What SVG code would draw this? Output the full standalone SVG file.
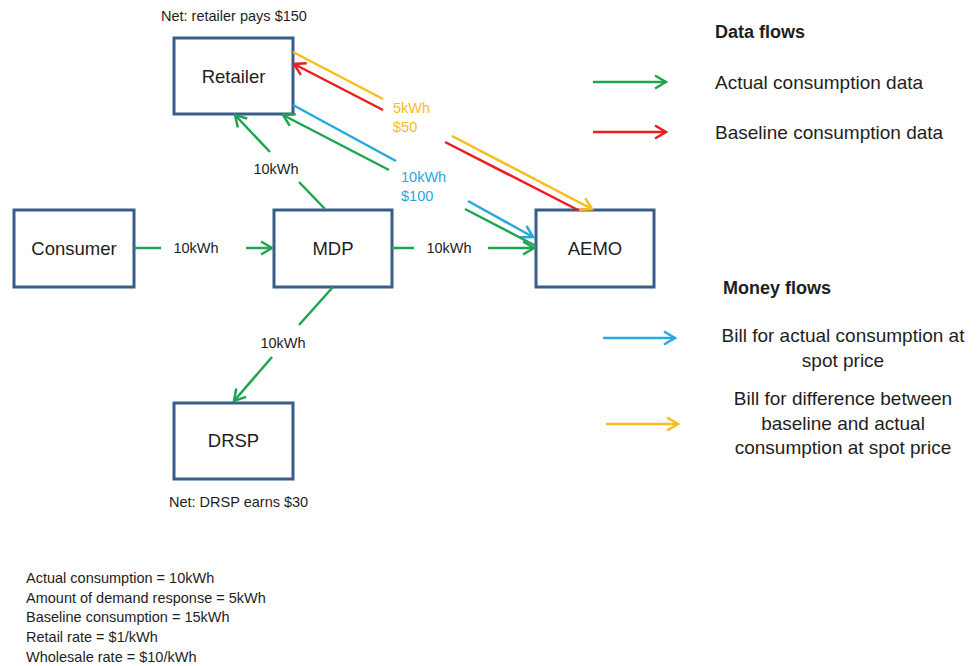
<svg xmlns="http://www.w3.org/2000/svg" width="979" height="666" viewBox="0 0 979 666">
<style>
  text { font-family: "Liberation Sans", Arial, sans-serif; fill: #1e1e1e; }
  .box { fill: #ffffff; stroke: #385d8a; stroke-width: 3; }
  .nlabel { font-size: 18.5px; text-anchor: middle; }
  .small { font-size: 14.5px; }
  .mid { text-anchor: middle; }
  .leg { font-size: 19px; }
  .legh { font-size: 18px; font-weight: bold; }
  .c { fill: none; stroke-width: 2.5; }
  .g { stroke: #1fa552; }
  .r { stroke: #ee1c1c; }
  .b { stroke: #27a8e0; }
  .y { stroke: #f9bc1d; }
</style>
<defs>
  <marker id="ag" viewBox="-13 -8 15 16" refX="0" refY="0" markerWidth="15" markerHeight="16" markerUnits="userSpaceOnUse" orient="auto">
    <path d="M-11 -6.5 L0 0 L-11 6.5" fill="none" stroke="#1fa552" stroke-width="2.5"/>
  </marker>
  <marker id="ar" viewBox="-13 -8 15 16" refX="0" refY="0" markerWidth="15" markerHeight="16" markerUnits="userSpaceOnUse" orient="auto">
    <path d="M-11 -6.5 L0 0 L-11 6.5" fill="none" stroke="#ee1c1c" stroke-width="2.5"/>
  </marker>
  <marker id="ab" viewBox="-13 -8 15 16" refX="0" refY="0" markerWidth="15" markerHeight="16" markerUnits="userSpaceOnUse" orient="auto">
    <path d="M-11 -6.5 L0 0 L-11 6.5" fill="none" stroke="#27a8e0" stroke-width="2.5"/>
  </marker>
  <marker id="ay" viewBox="-13 -8 15 16" refX="0" refY="0" markerWidth="15" markerHeight="16" markerUnits="userSpaceOnUse" orient="auto">
    <path d="M-11 -6.5 L0 0 L-11 6.5" fill="none" stroke="#f9bc1d" stroke-width="2.5"/>
  </marker>
</defs>
<rect width="979" height="666" fill="#ffffff"/>

<g id="retailer">
  <rect class="box" x="174" y="38" width="119" height="76"/>
  <text class="nlabel" x="233.5" y="82.5">Retailer</text>
</g>
<g id="consumer">
  <rect class="box" x="14" y="210" width="120" height="77"/>
  <text class="nlabel" x="74" y="254.5">Consumer</text>
</g>
<g id="mdp">
  <rect class="box" x="274" y="210" width="118" height="77"/>
  <text class="nlabel" x="333" y="254.5">MDP</text>
</g>
<g id="aemo">
  <rect class="box" x="536" y="210" width="118" height="77"/>
  <text class="nlabel" x="595" y="254.5">AEMO</text>
</g>
<g id="drsp">
  <rect class="box" x="174" y="403" width="119" height="76"/>
  <text class="nlabel" x="233.5" y="447">DRSP</text>
</g>

<g id="connectors">
  <path class="c g" d="M134 248 L161 248 M246 248 L272 248" marker-end="url(#ag)"/>
  <path class="c g" d="M392 248 L414 248 M488 248 L534 248" marker-end="url(#ag)"/>
  <path class="c g" d="M325 209 L299 182 M270 152 L235 115" marker-end="url(#ag)"/>
  <path class="c g" d="M333 287 L299 325 M272 357 L234 401" marker-end="url(#ag)"/>
  <path class="c y" d="M293 52 L383 99 M452 136 L592 209" marker-end="url(#ay)"/>
  <path class="c r" d="M578 210 L445 142 M383 110 L294 64" marker-end="url(#ar)"/>
  <path class="c b" d="M293 105 L396 161 M468 201 L533 237" marker-end="url(#ab)"/>
  <path class="c g" d="M536 246 L465 209 M389 170 L283 115" marker-end="url(#ag)"/>
  <text class="small mid" x="196" y="253">10kWh</text>
  <text class="small mid" x="449" y="253">10kWh</text>
  <text class="small mid" x="276" y="174">10kWh</text>
  <text class="small mid" x="283" y="348">10kWh</text>
  <text class="small" x="393" y="113" style="fill:#f9bc1d">5kWh</text>
  <text class="small" x="393" y="132" style="fill:#f9bc1d">$50</text>
  <text class="small" x="401" y="182" style="fill:#27a8e0">10kWh</text>
  <text class="small" x="401" y="201" style="fill:#27a8e0">$100</text>
</g>

<g id="notes">
  <text class="small" x="161" y="21">Net: retailer pays $150</text>
  <text class="small" x="169" y="507">Net: DRSP earns $30</text>
  <text class="small" x="26" y="583">Actual consumption = 10kWh</text>
  <text class="small" x="26" y="603">Amount of demand response = 5kWh</text>
  <text class="small" x="26" y="622">Baseline consumption = 15kWh</text>
  <text class="small" x="26" y="642">Retail rate = $1/kWh</text>
  <text class="small" x="26" y="662">Wholesale rate = $10/kWh</text>
</g>

<g id="legend">
  <text class="legh" x="715" y="38">Data flows</text>
  <path class="c g" d="M593 82 L666 82" marker-end="url(#ag)"/>
  <text class="leg" x="715" y="89">Actual consumption data</text>
  <path class="c r" d="M593 132 L666 132" marker-end="url(#ar)"/>
  <text class="leg" x="715" y="139">Baseline consumption data</text>
  <text class="legh" x="723" y="294">Money flows</text>
  <path class="c b" d="M603 338 L675 338" marker-end="url(#ab)"/>
  <text class="leg mid" x="843" y="342">Bill for actual consumption at</text>
  <text class="leg mid" x="843" y="367">spot price</text>
  <path class="c y" d="M606 424 L678 424" marker-end="url(#ay)"/>
  <text class="leg mid" x="843" y="405">Bill for difference between</text>
  <text class="leg mid" x="843" y="430">baseline and actual</text>
  <text class="leg mid" x="843" y="454">consumption at spot price</text>
</g>
</svg>
